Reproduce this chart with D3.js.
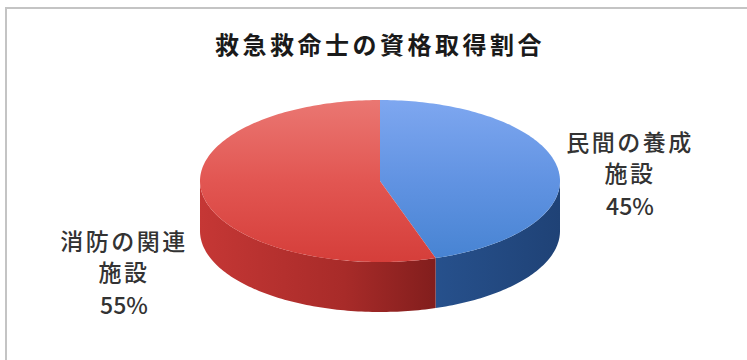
<!DOCTYPE html>
<html lang="ja">
<head>
<meta charset="UTF-8">
<title>救急救命士の資格取得割合</title>
<style>
  html, body { margin: 0; padding: 0; background: #fff; }
  svg { display: block; }
</style>
</head>
<body>
<div id="chart-container"></div>
<script src="https://cdn.jsdelivr.net/npm/d3@7"></script>
<script>
// chart data
const title = "救急救命士の資格取得割合";
const categories = ["民間の養成施設", "消防の関連施設"];
const labelLines = [["民間の養成", "施設"], ["消防の関連", "施設"]];
const values = [45, 55];

const width = 747, height = 360;
const cx = 380, cy = 181, rx = 180, ry = 81, depth = 50;

const svg = d3.select("#chart-container")
  .append("svg")
  .attr("width", width)
  .attr("height", height);

const defs = svg.append("defs");

function linGrad(id, x1, y1, x2, y2, stops) {
  const g = defs.append("linearGradient")
    .attr("id", id)
    .attr("gradientUnits", "userSpaceOnUse")
    .attr("x1", x1).attr("y1", y1).attr("x2", x2).attr("y2", y2);
  stops.forEach(s => g.append("stop").attr("offset", s[0]).attr("stop-color", s[1]));
}

// top faces and side walls
linGrad("topBlue", 0, cy - ry, 0, cy + ry, [[0, "#7ea7f0"], [0.5, "#6193e2"], [1, "#4683d2"]]);
linGrad("topRed", 0, cy - ry, 0, cy + ry, [[0, "#ea7772"], [0.5, "#e25652"], [1, "#d53e3a"]]);
linGrad("sideBlue", cx, 0, cx + rx, 0, [[0, "#2a5796"], [1, "#1f4276"]]);
linGrad("sideRed", cx - rx, 0, cx + 60, 0, [[0, "#c53735"], [0.6, "#a82b29"], [1, "#801d1c"]]);
const topFill = ["url(#topBlue)", "url(#topRed)"];
const sideFill = ["url(#sideBlue)", "url(#sideRed)"];

// frame (top and left edges only visible in the reference)
svg.append("line").attr("x1", 5).attr("y1", 8).attr("x2", width).attr("y2", 8)
  .attr("stroke", "#c4c4c4").attr("stroke-width", 2);
svg.append("line").attr("x1", 6).attr("y1", 8).attr("x2", 6).attr("y2", height)
  .attr("stroke", "#c4c4c4").attr("stroke-width", 2);

// title
svg.append("text")
  .attr("x", cx)
  .attr("y", 54)
  .attr("text-anchor", "middle")
  .style("font-family", "'Noto Sans CJK JP', sans-serif")
  .style("font-size", "24px")
  .style("font-weight", "bold")
  .style("letter-spacing", "3.5px")
  .style("fill", "#1a1a1a")
  .text(title);

const pie = d3.pie().sort(null).value(d => d);
const arcs = pie(values);

// angle 0 at the top, clockwise
const pt = (a, dy) => [cx + rx * Math.sin(a), cy - ry * Math.cos(a) + (dy || 0)];

function arcPoints(a0, a1, dy) {
  const n = Math.max(2, Math.ceil((a1 - a0) / 0.02));
  return d3.range(n + 1).map(i => pt(a0 + (a1 - a0) * i / n, dy));
}

const line = d3.line();

// side walls (front half only)
const sideG = svg.append("g");
arcs.forEach((d, i) => {
  const a0 = Math.max(d.startAngle, Math.PI / 2);
  const a1 = Math.min(d.endAngle, Math.PI * 1.5);
  if (a1 <= a0) return;
  const topEdge = arcPoints(a0, a1, 0);
  const botEdge = arcPoints(a0, a1, depth).reverse();
  sideG.append("path")
    .attr("d", line(topEdge.concat(botEdge)) + "Z")
    .attr("fill", sideFill[i]);
});

// top faces
const topG = svg.append("g");
arcs.forEach((d, i) => {
  const pts = [[cx, cy]].concat(arcPoints(d.startAngle, d.endAngle, 0));
  topG.append("path")
    .attr("d", line(pts) + "Z")
    .attr("fill", topFill[i]);
});

// data labels
const labelPos = [[630, 143], [124, 242]];
const labelG = svg.append("g")
  .style("font-family", "'Noto Sans CJK JP', sans-serif")
  .style("font-size", "23px")
  .style("font-weight", "500")
  .style("fill", "#333");
arcs.forEach((d, i) => {
  const t = labelG.append("text")
    .attr("x", labelPos[i][0])
    .attr("y", labelPos[i][1] + 8)
    .attr("text-anchor", "middle");
  const lines = labelLines[i].concat([d3.format(".0%")(d.value / d3.sum(values))]);
  lines.forEach((s, j) => {
    t.append("tspan")
      .attr("x", labelPos[i][0])
      .attr("dy", j === 0 ? 0 : (j === 2 ? 33 : 31))
      .style("letter-spacing", j === 2 ? "0px" : "2.5px")
      .text(s);
  });
});
</script>
</body>
</html>
